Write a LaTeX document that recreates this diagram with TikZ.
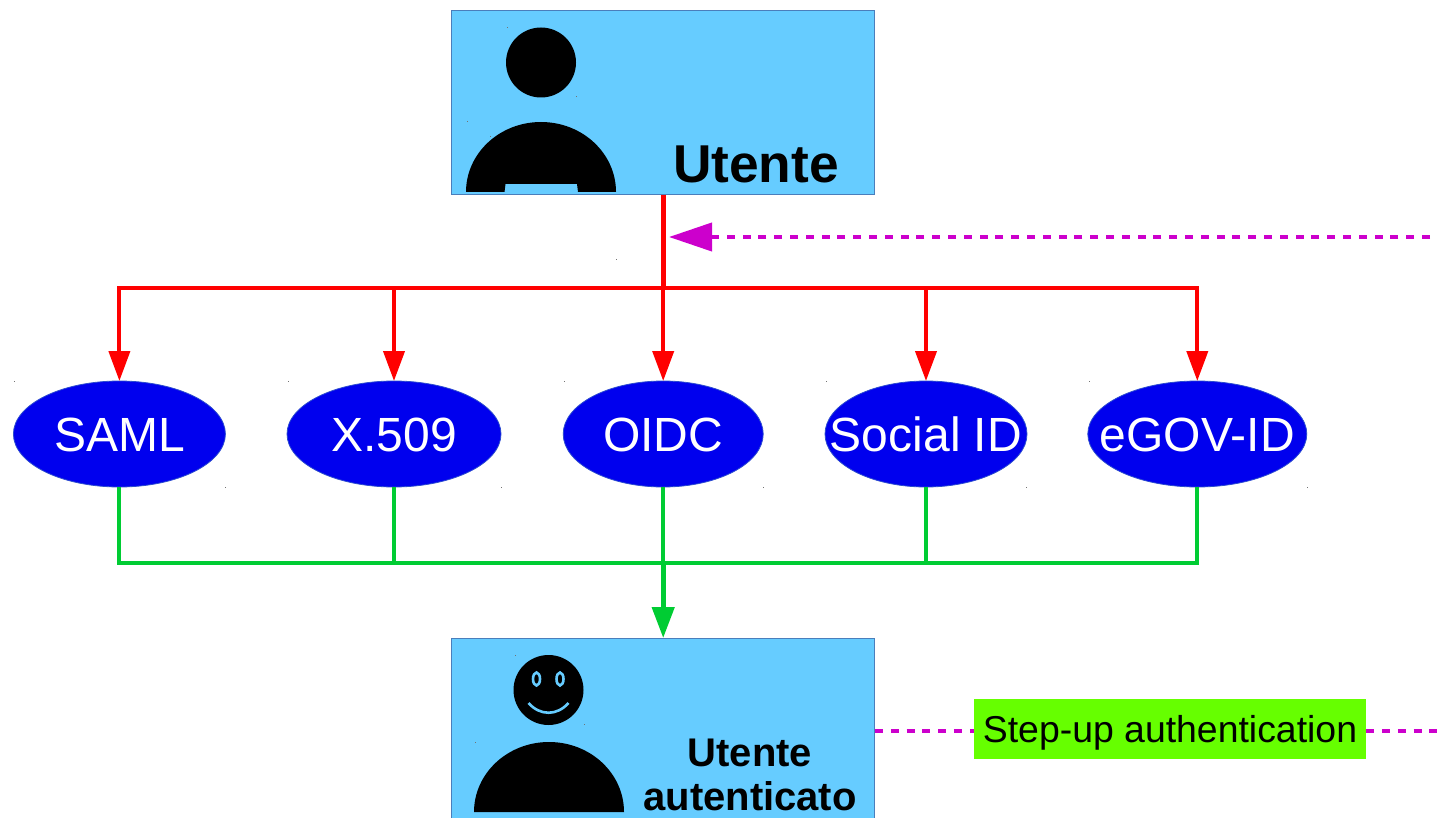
\documentclass[tikz,border=0pt]{standalone}
\usepackage{fontspec}
\setmainfont{Liberation Sans}
\usetikzlibrary{arrows.meta,calc,shapes.geometric}
\definecolor{skybox}{HTML}{66CCFF}
\definecolor{boxedge}{HTML}{4A7EBB}
\definecolor{ovalblue}{HTML}{0000EE}
\definecolor{redline}{HTML}{FF0000}
\definecolor{greenline}{HTML}{00CC33}
\definecolor{dashmag}{HTML}{CC00CC}
\definecolor{labelgreen}{HTML}{66FF00}
\newcommand\ovaltext[1]{\makebox[0pt]{\raisebox{-17pt}[0pt][0pt]{#1}}}
\newcommand\steptext[1]{\makebox[0pt]{\raisebox{-13pt}[0pt][0pt]{#1}}}
\tikzset{
  userbox/.style={draw=boxedge,line width=1pt,fill=skybox,minimum width=423.5pt,inner sep=0pt,outer sep=0pt},
  oval/.style={ellipse,draw=boxedge!60!ovalblue,line width=0.8pt,fill=ovalblue,text=white,inner sep=0pt,outer sep=0pt,minimum height=106pt,font=\fontsize{48}{48}\selectfont},
  redln/.style={draw=redline,line width=4pt},
  redarr/.style={redln,-{Triangle[length=30pt,width=21pt]}},
  greenln/.style={draw=greenline,line width=4pt},
  greenarr/.style={greenln,-{Triangle[length=31pt,width=22pt]}},
  magdash/.style={draw=dashmag,line width=4pt,dash pattern=on 8pt off 7.8pt},
  magarr/.style={magdash,-{Triangle[length=43pt,width=28pt,fill=dashmag,sep=0pt]}},
  speck/.style={fill=black!55,inner sep=0pt,minimum size=1pt,rectangle},
  body/.style={fill=black},
  boxtitle/.style={text=black,inner sep=0pt,font=\bfseries\fontsize{53.3}{53}\selectfont},
  boxtitlesmall/.style={text=black,inner sep=0pt,align=center,font=\bfseries\fontsize{40}{44}\selectfont},
  steplabel/.style={fill=labelgreen,text=black,inner sep=0pt,minimum width=392pt,minimum height=60pt,font=\fontsize{37.4}{38}\selectfont}
}
\begin{document}
\begin{tikzpicture}[x=1pt,y=-1pt]
\useasboundingbox (0,0) rectangle (1437,818);
\clip (0,0) rectangle (1437,818);
% boxes
\node[userbox,minimum height=184pt] (utente) at (663.2,103) {};
\node[userbox,minimum height=186pt] (autent) at (663.2,731) {};
% ellipses
\node[oval,minimum width=212pt] (saml) at (119.4,434) {\ovaltext{SAML}};
\node[oval,minimum width=214pt] (x509) at (394,434) {\ovaltext{X.509}};
\node[oval,minimum width=200pt] (oidc) at (663.2,434) {\ovaltext{OIDC}};
\node[oval,minimum width=202pt] (social) at (926,434) {\ovaltext{Social ID}};
\node[oval,minimum width=219pt] (egov) at (1197.3,434) {\ovaltext{eGOV-ID}};
% top figure
\fill[body] (541,62.5) circle[radius=35];
\fill[body] (466,192) arc[start angle=180,end angle=360,x radius=75,y radius=70] -- (578,192) -- (577,184) -- (505.5,184) -- (504.5,192) -- cycle;
\node[boxtitle,anchor=base] (utentelabel) at (756,183) {Utente};
% bottom figure
\fill[body] (548.5,690) circle[radius=35];
\draw[skybox,line width=2.6pt] (536.5,679) ellipse[x radius=3.5,y radius=6.5];
\draw[skybox,line width=2.6pt] (560,679) ellipse[x radius=3.5,y radius=6.5];
\draw[skybox,line width=2.6pt] (528.5,703) .. controls (540,716) and (557,716) .. (568.5,703);
\fill[body] (474,812) arc[start angle=180,end angle=360,x radius=75,y radius=70] -- cycle;
\node[boxtitlesmall,anchor=base] (autlabel1) at (750,766) {Utente};
\node[boxtitlesmall,anchor=base] (autlabel2) at (750,810) {autenticato};
% red connectors
\coordinate (redhub) at (utente.south |- 0,288);
\draw[redln,line width=4.6pt] (utente.south) -- (redhub);
\draw[redarr] (redhub) -| (saml.north);
\draw[redarr] (redhub) -| (x509.north);
\draw[redarr] (redhub) -- (oidc.north);
\draw[redarr] (redhub) -| (social.north);
\draw[redarr] (redhub) -| (egov.north);
% green connectors
\coordinate (greenhub) at (oidc.south |- 0,563);
\draw[greenln] (saml.south) |- (greenhub);
\draw[greenln] (x509.south) |- (greenhub);
\draw[greenln] (social.south) |- (greenhub);
\draw[greenln] (egov.south) |- (greenhub);
\draw[greenln] (oidc.south) -- (greenhub);
\draw[greenarr,line width=4.6pt] (greenhub) -- (autent.north);
% step-up label and dashed feedback
\node[steplabel] (stepup) at (1170,729) {\steptext{Step-up authentication}};
\coordinate (feedbackend) at (1437,731);
\coordinate (feedbackstart) at (1430,237);
\coordinate (feedbacktip) at (669,237);
\draw[magdash] (autent.east) -- (stepup.west |- autent.east);
\draw[magdash] (stepup.east |- autent.east) -- (feedbackend);
\draw[magarr] (feedbackstart) -- (feedbacktip);
% specks
\foreach \px/\py in {507/28,576/97,467/122,490/137,616/260,515/655,584/724,475/742,14/381,225/487,288/381,501/487,564/381,763/487,826/381,1026/487,1089/381,1307/487}
  \node[speck] at (\px,\py) {};
\end{tikzpicture}
\end{document}
